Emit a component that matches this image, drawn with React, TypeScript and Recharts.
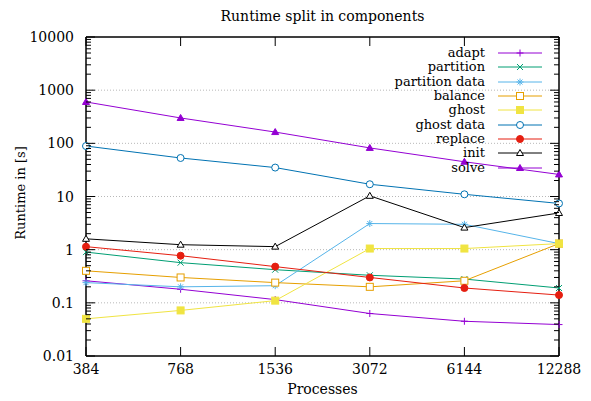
import React from "react";
import {
  LineChart,
  Line,
  XAxis,
  YAxis,
  CartesianGrid,
  ReferenceArea,
} from "recharts";

const processes = ["384", "768", "1536", "3072", "6144", "12288"];

const adapt = [0.26, 0.18, 0.115, 0.063, 0.045, 0.039];
const partition = [0.9, 0.57, 0.42, 0.33, 0.28, 0.19];
const partitionData = [0.24, 0.2, 0.21, 3.1, 3.0, 1.3];
const balance = [0.4, 0.3, 0.24, 0.2, 0.26, 1.3];
const ghost = [0.05, 0.072, 0.11, 1.05, 1.05, 1.3];
const ghostData = [89, 53, 35, 17, 11, 7.4];
const replace = [1.14, 0.77, 0.48, 0.3, 0.19, 0.14];
const init = [1.6, 1.24, 1.14, 10.3, 2.6, 4.9];
const solve = [600, 300, 163, 82, 45, 26];

const majorTicks = [0.01, 0.1, 1, 10, 100, 1000, 10000];
const gridValues = [0.1, 1, 10, 100, 1000];

type Marker = "plus" | "cross" | "star" | "square" | "squareFill" | "circle" | "circleFill" | "triangle" | "triangleFill";

const series: { key: string; name: string; values: number[]; color: string; marker: Marker }[] = [
  { key: "adapt", name: "adapt", values: adapt, color: "#9400d3", marker: "plus" },
  { key: "partition", name: "partition", values: partition, color: "#009e73", marker: "cross" },
  { key: "partitionData", name: "partition data", values: partitionData, color: "#56b4e9", marker: "star" },
  { key: "balance", name: "balance", values: balance, color: "#e69f00", marker: "square" },
  { key: "ghost", name: "ghost", values: ghost, color: "#f0e442", marker: "squareFill" },
  { key: "ghostData", name: "ghost data", values: ghostData, color: "#0072b2", marker: "circle" },
  { key: "replace", name: "replace", values: replace, color: "#e51e10", marker: "circleFill" },
  { key: "init", name: "init", values: init, color: "#000000", marker: "triangle" },
  { key: "solve", name: "solve", values: solve, color: "#9400d3", marker: "triangleFill" },
];

const data = processes.map((p, i) => {
  const row: Record<string, string | number> = { p };
  series.forEach((s) => (row[s.key] = s.values[i]));
  return row;
});

// minor ticks 2..9 per decade
const minorTicks: number[] = [];
majorTicks.slice(0, -1).forEach((m) => {
  for (let k = 2; k <= 9; k++) minorTicks.push(+(m * k).toPrecision(3));
});

const FONT = "'DejaVu Serif', 'Liberation Serif', serif";
const LOG_DOMAIN: [number, number] = [0.01, 10000];

function drawMarker(kind: Marker, cx: number, cy: number, color: string, key?: React.Key) {
  const s = 3.5;
  switch (kind) {
    case "plus":
      return (
        <g key={key} stroke={color} strokeWidth={1}>
          <line x1={cx - s} y1={cy} x2={cx + s} y2={cy} />
          <line x1={cx} y1={cy - s} x2={cx} y2={cy + s} />
        </g>
      );
    case "cross":
      return (
        <g key={key} stroke={color} strokeWidth={1}>
          <line x1={cx - 3} y1={cy - 3} x2={cx + 3} y2={cy + 3} />
          <line x1={cx - 3} y1={cy + 3} x2={cx + 3} y2={cy - 3} />
        </g>
      );
    case "star":
      return (
        <g key={key} stroke={color} strokeWidth={1}>
          <line x1={cx - s} y1={cy} x2={cx + s} y2={cy} />
          <line x1={cx} y1={cy - s} x2={cx} y2={cy + s} />
          <line x1={cx - 2.5} y1={cy - 2.5} x2={cx + 2.5} y2={cy + 2.5} />
          <line x1={cx - 2.5} y1={cy + 2.5} x2={cx + 2.5} y2={cy - 2.5} />
        </g>
      );
    case "square":
      return <rect key={key} x={cx - s} y={cy - s} width={2 * s} height={2 * s} fill="#fff" stroke={color} strokeWidth={1} />;
    case "squareFill":
      return <rect key={key} x={cx - s} y={cy - s} width={2 * s} height={2 * s} fill={color} stroke={color} strokeWidth={1} />;
    case "circle":
      return <circle key={key} cx={cx} cy={cy} r={s} fill="#fff" stroke={color} strokeWidth={1} />;
    case "circleFill":
      return <circle key={key} cx={cx} cy={cy} r={s} fill={color} stroke={color} strokeWidth={1} />;
    case "triangle":
      return (
        <polygon key={key} points={`${cx},${cy - 3.5} ${cx - 3.5},${cy + 2.5} ${cx + 3.5},${cy + 2.5}`} fill="#fff" stroke={color} strokeWidth={1} />
      );
    default:
      return (
        <polygon key={key} points={`${cx},${cy - 3.5} ${cx - 3.5},${cy + 2.5} ${cx + 3.5},${cy + 2.5}`} fill={color} stroke={color} strokeWidth={1} />
      );
  }
}

function YLabel(props: any) {
  const { x, y, payload } = props;
  return (
    <text x={x - 12} y={y} dy={5} textAnchor="end" fontFamily={FONT} fontSize={14} fill="#000">
      {String(payload.value)}
    </text>
  );
}

function XLabel(props: any) {
  const { x, y, payload } = props;
  return (
    <text x={x} y={y} dy={18} textAnchor="middle" fontFamily={FONT} fontSize={14} fill="#000">
      {payload.value}
    </text>
  );
}

// tick marks pointing into the frame, as a Line's dots on a helper series would be wrong,
// so the marks come from each axis' own tick layout
function YTickMark(props: any) {
  const { x, y, payload, side } = props;
  const len = majorTicks.includes(payload.value) ? 9 : 5;
  const dir = side === "left" ? 1 : -1;
  return <rect x={dir > 0 ? x : x - len} y={y - 0.5} width={len} height={1} fill="#000" />;
}

function XTickMark(props: any) {
  const { x, y, side } = props;
  return <rect x={x - 0.5} y={side === "bottom" ? y - 9 : y} width={1} height={9} fill="#000" />;
}

function KeyBox() {
  return (
    <div style={{ position: "absolute", left: 370, top: 46, fontFamily: FONT, fontSize: 13, color: "#000" }}>
      {series.map((s) => (
        <div key={s.key} style={{ display: "flex", alignItems: "center", height: 14.3 }}>
          <span style={{ width: 115, textAlign: "right", lineHeight: "14px", whiteSpace: "nowrap" }}>{s.name}</span>
          <svg width={58} height={14}>
            <line x1={13} y1={7} x2={57} y2={7} stroke={s.color} strokeWidth={1} />
            {drawMarker(s.marker, 35, 7, s.color)}
          </svg>
        </div>
      ))}
    </div>
  );
}

const allYTicks = [...majorTicks, ...minorTicks];

export default function App() {
  return (
    <div style={{ position: "absolute", left: 0, top: 0, width: 591, height: 401, background: "#fff" }}>
      <LineChart width={591} height={401} data={data} margin={{ top: 36, right: 31, bottom: 44, left: 85 }}>
        <CartesianGrid
          yAxisId="l"
          horizontal
          vertical={false}
          horizontalValues={gridValues}
          stroke="#b8b8b8"
          strokeDasharray="1 2"
        />
        <XAxis
          dataKey="p"
          type="category"
          height={1}
          tickSize={0}
          tickMargin={0}
          interval={0}
          axisLine={{ stroke: "#000" }}
          tickLine={false}
          tick={(p: any) => (
            <g>
              <XTickMark {...p} side="bottom" />
              <XLabel {...p} />
            </g>
          )}
        />
        <XAxis
          xAxisId="top"
          orientation="top"
          dataKey="p"
          type="category"
          height={1}
          tickSize={0}
          tickMargin={0}
          interval={0}
          axisLine={{ stroke: "#000" }}
          tickLine={false}
          tick={(p: any) => <XTickMark {...p} side="top" />}
        />
        <YAxis
          yAxisId="l"
          scale="log"
          domain={LOG_DOMAIN}
          ticks={allYTicks}
          interval={0}
          allowDataOverflow
          width={1}
          tickSize={0}
          tickMargin={0}
          axisLine={{ stroke: "#000" }}
          tickLine={false}
          tick={(p: any) => (
            <g>
              <YTickMark {...p} side="left" />
              {majorTicks.includes(p.payload.value) && <YLabel {...p} />}
            </g>
          )}
        />
        <YAxis
          yAxisId="r"
          orientation="right"
          scale="log"
          domain={LOG_DOMAIN}
          ticks={allYTicks}
          interval={0}
          allowDataOverflow
          width={1}
          tickSize={0}
          tickMargin={0}
          axisLine={{ stroke: "#000" }}
          tickLine={false}
          tick={(p: any) => <YTickMark {...p} side="right" />}
        />
        <ReferenceArea yAxisId="l" y1={0.01} y2={10000} ifOverflow="visible" fill="none" stroke="#000" strokeWidth={1} />
        {series.map((s) => (
          <Line
            key={s.key}
            yAxisId="l"
            xAxisId={s.key === "solve" ? "top" : 0}
            dataKey={s.key}
            name={s.name}
            type="linear"
            stroke={s.color}
            strokeWidth={1}
            isAnimationActive={false}
            dot={(p: any) => drawMarker(s.marker, p.cx, p.cy, s.color, `${s.key}-${p.index}`)}
            activeDot={false}
          />
        ))}
      </LineChart>
      <KeyBox />
      <div style={{ position: "absolute", left: 0, width: 645, top: 8, textAlign: "center", fontFamily: FONT, fontSize: 14 }}>
        Runtime split in components
      </div>
      <div style={{ position: "absolute", left: 0, width: 645, top: 381, textAlign: "center", fontFamily: FONT, fontSize: 14 }}>
        Processes
      </div>
      <div
        style={{
          position: "absolute",
          left: 20,
          top: 193,
          transform: "translate(-50%, -50%) rotate(-90deg)",
          whiteSpace: "nowrap",
          fontFamily: FONT,
          fontSize: 13,
        }}
      >
        Runtime in [s]
      </div>
    </div>
  );
}
